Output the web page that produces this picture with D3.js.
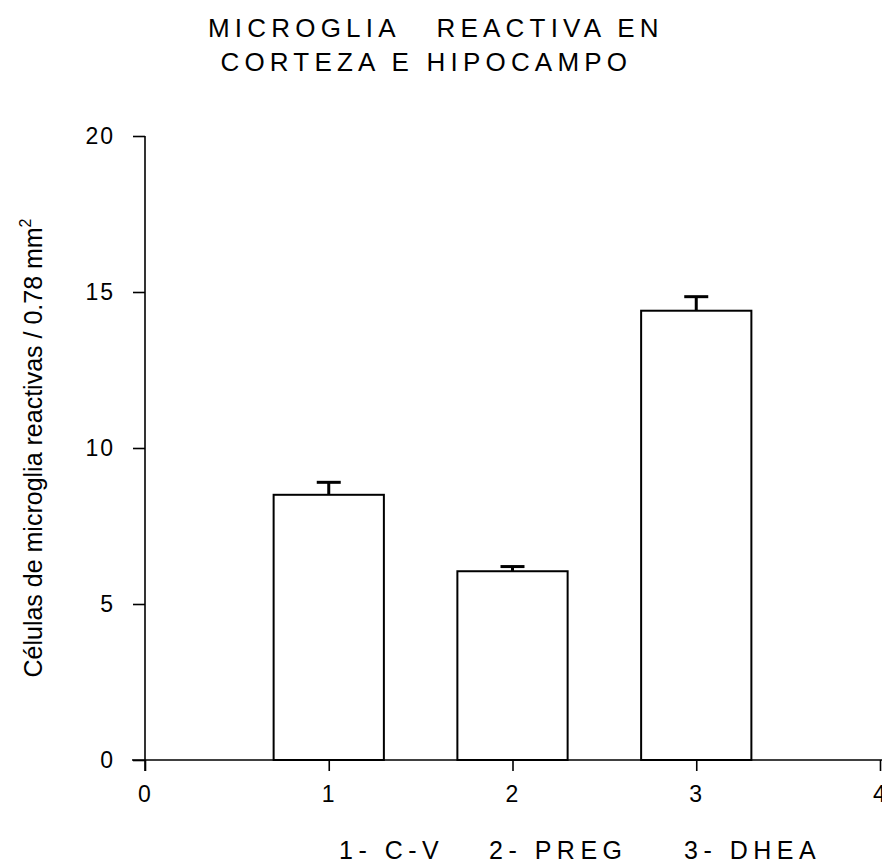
<!DOCTYPE html>
<html>
<head>
<meta charset="utf-8">
<script src="https://cdn.jsdelivr.net/npm/d3@7"></script>
<style>
  body { margin: 0; background: #fff; }
  svg { display: block; font-family: "Liberation Sans", Arial, sans-serif; }
</style>
</head>
<body>
<svg id="chart" width="882" height="865"></svg>
<script>
// data
const groups = [1, 2, 3];
const means = [8.5, 6.05, 14.4];
const errors = [0.4, 0.15, 0.45];
const groupNames = ["1- C-V", "2- PREG", "3- DHEA"];
const xTicks = [0, 1, 2, 3, 4];
const yTicks = [0, 5, 10, 15, 20];
const titleLines = ["MICROGLIA   REACTIVA EN", " CORTEZA E HIPOCAMPO"];

const svg = d3.select("#chart");

const x = d3.scaleLinear().domain([0, 4]).range([145, 880]);
const y = d3.scaleLinear().domain([0, 20]).range([760, 136]);
const barWidth = 0.6; // in x units

// title
svg.append("g")
    .selectAll("text")
    .data(titleLines)
    .join("text")
    .attr("x", 208)
    .attr("y", (d, i) => 37 + i * 34)
    .attr("font-size", 26)
    .attr("letter-spacing", 5.2)
    .style("white-space", "pre")
    .text(d => d);

// bars
svg.append("g")
    .selectAll("rect")
    .data(groups)
    .join("rect")
    .attr("x", (d) => x(d - barWidth / 2))
    .attr("y", (d, i) => y(means[i]))
    .attr("width", x(barWidth) - x(0))
    .attr("height", (d, i) => y(0) - y(means[i]))
    .attr("fill", "#fff")
    .attr("stroke", "#000")
    .attr("stroke-width", 2);

// error bars (upper only)
const err = svg.append("g").attr("stroke", "#000");
err.selectAll("line.stem")
    .data(groups)
    .join("line")
    .attr("class", "stem")
    .attr("x1", d => x(d)).attr("x2", d => x(d))
    .attr("y1", (d, i) => y(means[i]))
    .attr("y2", (d, i) => y(means[i] + errors[i]))
    .attr("stroke-width", 3);
err.selectAll("line.cap")
    .data(groups)
    .join("line")
    .attr("class", "cap")
    .attr("x1", d => x(d) - 12).attr("x2", d => x(d) + 12)
    .attr("y1", (d, i) => y(means[i] + errors[i]))
    .attr("y2", (d, i) => y(means[i] + errors[i]))
    .attr("stroke-width", 3);

// axes
const xAxis = svg.append("g")
    .attr("transform", `translate(0,${y(0)})`)
    .call(d3.axisBottom(x).tickValues(xTicks).tickSize(11).tickPadding(15).tickSizeOuter(0).tickFormat(d3.format("d")));
xAxis.select(".domain").attr("d", `M132,0H882`);

const yAxis = svg.append("g")
    .attr("transform", `translate(${x(0)},0)`)
    .call(d3.axisLeft(y).tickValues(yTicks).tickSize(12).tickPadding(18).tickSizeOuter(0));
yAxis.select(".domain").attr("d", `M0,${y(20)}V${y(0) + 11}`);

svg.selectAll(".tick text")
    .attr("font-size", 23)
    .attr("letter-spacing", 2)
    .attr("font-family", "Liberation Sans, Arial, sans-serif")
    .attr("fill", "#000");
svg.selectAll(".domain, .tick line").attr("stroke", "#000").attr("stroke-width", 1.6);

// y label
const yl = svg.append("text")
    .attr("transform", "translate(42,448) rotate(-90)")
    .attr("text-anchor", "middle")
    .attr("font-size", 25);
yl.append("tspan").text("Células de microglia reactivas / 0.78 mm");
yl.append("tspan").attr("dy", -11).attr("font-size", 16).text("2");

// group names under the axis
const legendX = d3.scaleOrdinal().domain(groupNames).range([339, 489, 684]);
svg.append("g")
    .selectAll("text")
    .data(groupNames)
    .join("text")
    .attr("x", d => legendX(d))
    .attr("y", 859)
    .attr("font-size", 25)
    .attr("letter-spacing", 5.5)
    .text(d => d);
</script>
</body>
</html>
